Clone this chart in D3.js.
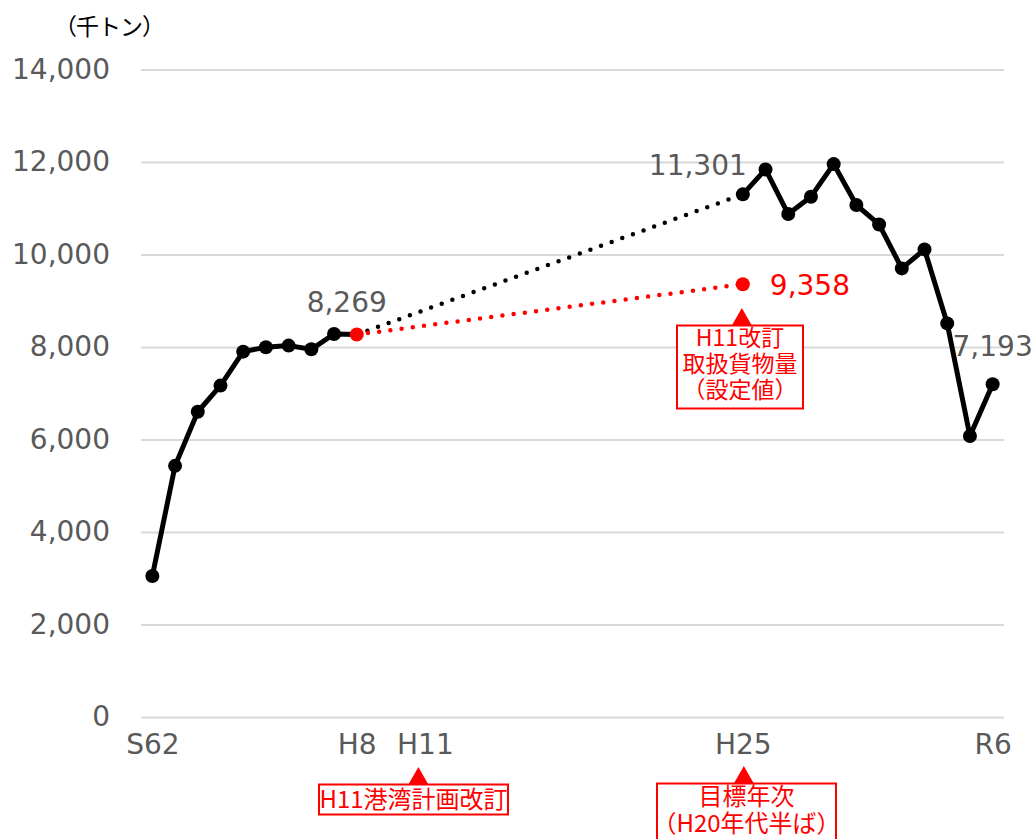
<!DOCTYPE html>
<html>
<head>
<meta charset="utf-8">
<script src="https://cdn.jsdelivr.net/npm/d3@7"></script>
<style>
  body { margin: 0; background: #fff; }
  svg { display: block; }
  text { font-family: "Noto Sans CJK JP", "Noto Sans", sans-serif; }
  .num { font-family: "DejaVu Sans", sans-serif; }
</style>
</head>
<body>
<svg id="chart" width="1036" height="839"></svg>
<script>
// Fiscal-year categories, Showa 62 through Reiwa 6
const categories = ["S62", "S63"]
  .concat(d3.range(1, 31).map(n => "H" + n))
  .concat(d3.range(1, 7).map(n => "R" + n));

// Cargo volume (thousand tonnes), S62–H8
const earlyYears = ["S62", "S63", "H1", "H2", "H3", "H4", "H5", "H6", "H7", "H8"];
const earlyValues = [3050, 5430, 6600, 7165, 7900, 7995, 8030, 7950, 8280, 8269];

// Cargo volume (thousand tonnes), H25–R6
const lateYears = ["H25", "H26", "H27", "H28", "H29", "H30", "R1", "R2", "R3", "R4", "R5", "R6"];
const lateValues = [11301, 11840, 10875, 11250, 11955, 11070, 10650, 9700, 10110, 8510, 6075, 7193];

// Planned volume set in the H11 revision, for the target year H25
const targetYear = "H25";
const targetValue = 9358;

const xTickLabels = ["S62", "H8", "H11", "H25", "R6"];
const yTicks = [0, 2000, 4000, 6000, 8000, 10000, 12000, 14000];

const svg = d3.select("#chart");
const fmt = d3.format(",");

const x = d3.scalePoint().domain(categories).range([141, 1004]).padding(0.5);
const y = d3.scaleLinear().domain([0, 14000]).range([717, 69.5]);

const axisGrey = "#595959";
const red = "#ff0000";
const numSize = "28px";

// Gridlines and y-axis labels
const yAxis = d3.axisLeft(y).tickValues(yTicks).tickSize(-(1004 - 141)).tickFormat(fmt).tickPadding(31);
const gy = svg.append("g").attr("transform", "translate(141,0)").call(yAxis);
gy.select(".domain").remove();
gy.selectAll(".tick line").attr("stroke", "#d9d9d9").attr("stroke-width", 2);
gy.selectAll(".tick text").attr("class", "num").attr("fill", axisGrey)
  .style("font-size", numSize).attr("font-family", null);

// X-axis labels
const xAxis = d3.axisBottom(x).tickValues(xTickLabels).tickSize(0).tickPadding(17);
const gx = svg.append("g").attr("transform", "translate(0,717)").call(xAxis);
gx.select(".domain").remove();
gx.selectAll(".tick text").attr("class", "num").attr("fill", axisGrey)
  .style("font-size", numSize).attr("font-family", null);

// Unit label
svg.append("text").attr("x", 54).attr("y", 35).style("font-size", "23px").attr("fill", "#000")
  .style("letter-spacing", "-1px")
  .text("（千トン）");

const early = earlyYears.map((k, i) => ({ k, v: earlyValues[i] }));
const late = lateYears.map((k, i) => ({ k, v: lateValues[i] }));
const lastEarly = early[early.length - 1];
const line = d3.line().x(d => x(d.k)).y(d => y(d.v));

// Dotted connectors across the gap: actual trend and planned value
svg.append("path").datum([lastEarly, late[0]]).attr("d", line)
  .attr("fill", "none").attr("stroke", "#000").attr("stroke-width", 4.5)
  .attr("stroke-linecap", "round").attr("stroke-dasharray", "0 11.3");
svg.append("path").datum([lastEarly, { k: targetYear, v: targetValue }]).attr("d", line)
  .attr("fill", "none").attr("stroke", red).attr("stroke-width", 4.5)
  .attr("stroke-linecap", "round").attr("stroke-dasharray", "0 11.3");

// Solid actual-volume lines
[early, late].forEach(seg => {
  svg.append("path").datum(seg).attr("d", line)
    .attr("fill", "none").attr("stroke", "#000").attr("stroke-width", 5)
    .attr("stroke-linejoin", "round");
});

// Markers
svg.append("g").selectAll("circle").data(early.slice(0, -1).concat(late)).join("circle")
  .attr("cx", d => x(d.k)).attr("cy", d => y(d.v)).attr("r", 7).attr("fill", "#000");
svg.append("g").selectAll("circle").data([lastEarly, { k: targetYear, v: targetValue }]).join("circle")
  .attr("cx", d => x(d.k)).attr("cy", d => y(d.v)).attr("r", 7).attr("fill", red);

// Value labels
const valueLabel = (d, dx, dy, anchor, color) =>
  svg.append("text").attr("class", "num").attr("x", x(d.k) + dx).attr("y", y(d.v) + dy)
    .attr("text-anchor", anchor).attr("fill", color)
    .style("font-size", numSize)
    .text(fmt(d.v));
valueLabel(lastEarly, -10, -23, "middle", axisGrey);
valueLabel(late[0], 4, -19, "end", axisGrey);
valueLabel(late[late.length - 1], 0, -28, "middle", axisGrey);
valueLabel({ k: targetYear, v: targetValue }, 27, 11, "start", red);

// Red callout: triangle pointer above a boxed, multi-line note
function callout(cx, apexY, boxX, boxW, boxH, lines, lineH, fontSize) {
  const g = svg.append("g");
  const baseY = apexY + 17.5;
  g.append("path")
    .attr("d", `M${cx},${apexY}L${cx + 10},${baseY}L${cx - 10},${baseY}Z`)
    .attr("fill", red);
  g.append("rect").attr("x", boxX).attr("y", baseY).attr("width", boxW).attr("height", boxH)
    .attr("fill", "#fff").attr("stroke", red).attr("stroke-width", 2);
  const midX = boxX + boxW / 2;
  lines.forEach((t, i) => {
    g.append("text").attr("x", midX).attr("y", baseY + lineH * (i + 1) - 6)
      .attr("text-anchor", "middle").attr("fill", red).style("font-size", fontSize + "px")
      .text(t);
  });
}

callout(x(targetYear) - 1, 308, 677, 126, 83, ["H11改訂", "取扱貨物量", "（設定値）"], 26, 23);
callout(x("H11") - 6.5, 767, 319, 189, 30, ["H11港湾計画改訂"], 29, 24);
callout(x(targetYear) + 1, 766, 657, 179, 70, ["目標年次", "（H20年代半ば）"], 27, 24);
</script>
</body>
</html>
